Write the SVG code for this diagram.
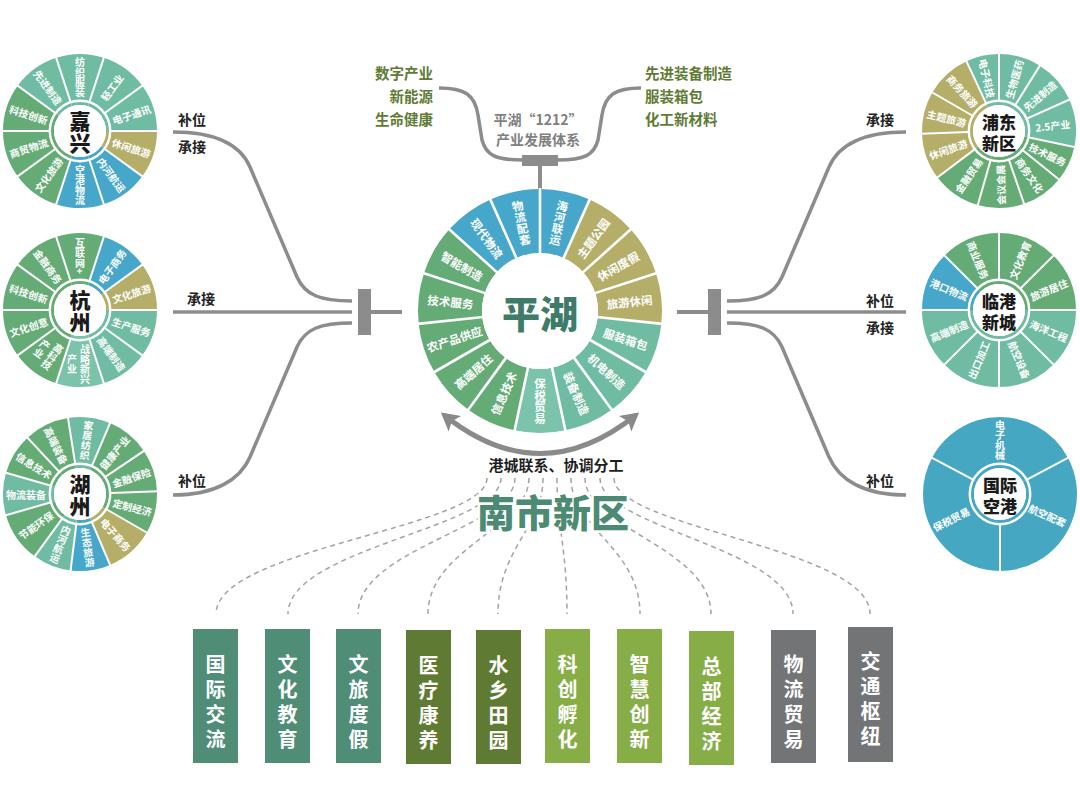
<svg xmlns="http://www.w3.org/2000/svg" xmlns:xlink="http://www.w3.org/1999/xlink" width="1080" height="797" viewBox="0 0 1080 797">
<defs>
<style>
text{font-family:"Noto Sans CJK SC","Noto Sans",sans-serif}
.sg{fill:none;stroke-width:51}
.sgP{fill:none;stroke-width:64}
.t{stroke:#6fbca2}.g{stroke:#65ab76}.o{stroke:#b5ae69}.b{stroke:#46a7ca}.a{stroke:#46a7c3}.t2{stroke:#7bc3aa}
.gap{fill:none;stroke:#fff;stroke-width:2.4}
.hub{fill:#fff}
.sep{stroke:#fff;stroke-width:2}
.sepP{stroke:#fff;stroke-width:2.6}
.st{font-size:10px;font-weight:700;fill:#fff;text-anchor:middle;dominant-baseline:central}
.pt{font-size:11.5px}
.v{writing-mode:vertical-rl}
.ct{font-size:21px;font-weight:900;fill:#1a1a1a;text-anchor:middle;dominant-baseline:central}
.ct2{font-size:17px;font-weight:900;fill:#1a1a1a;text-anchor:middle;dominant-baseline:central}
.conn{fill:none;stroke:#8c8c8c;stroke-width:3.5}
.bar{fill:#8c8c8c}
.lbl{font-size:14px;font-weight:700;fill:#222}
.gt{font-size:14.5px;font-weight:700;fill:#607b35}
.dash{fill:none;stroke:#a3a3a3;stroke-width:1.5;stroke-dasharray:5 4}
.bx{font-size:20px;font-weight:700;fill:#fff;text-anchor:middle;dominant-baseline:central}
</style>
<line id="sp" x1="31" x2="78" y1="0" y2="0" class="sep"/>
<line id="spP" x1="57" x2="123" y1="0" y2="0" class="sepP"/>
<marker id="ah" markerUnits="userSpaceOnUse" markerWidth="24" markerHeight="24" refX="8" refY="0" viewBox="-8 -12 24 24" orient="auto-start-reverse">
<path d="M-6,-10 L12,0 L-6,10 L-2,0 z" fill="#8a8a8a"/>
</marker>
</defs>
<rect width="1080" height="797" fill="#fff"/>

<g id="connectors">
<path class="conn" d="M173,132 C215,132 240,144 250,167 L297,277 C305,295 320,301 352,301"/>
<path class="conn" d="M173,312 H352"/>
<path class="conn" d="M352,323 C320,323 305,329 297,347 L250,457 C240,480 215,495 173,495"/>
<rect class="bar" x="358" y="289" width="13" height="46"/>
<path class="conn" d="M371,312 H402" style="stroke-width:4"/>
<path class="conn" d="M906,132 C864,132 839,144 829,167 L782,277 C774,295 759,301 727,301"/>
<path class="conn" d="M727,312 H906"/>
<path class="conn" d="M727,323 C759,323 774,329 782,347 L829,457 C839,480 864,495 906,495"/>
<rect class="bar" x="708" y="289" width="13" height="46"/>
<path class="conn" d="M677,312 H708" style="stroke-width:4"/>
<path class="conn" d="M439,88 C465,88 475,95 478,115 L482,140 C486,155 495,160 523,160"/>
<path class="conn" d="M641,88 C615,88 605,95 602,115 L598,140 C594,155 585,160 557,160"/>
<rect class="bar" x="522" y="155" width="36" height="11"/>
<path class="conn" d="M540,166 V190" style="stroke-width:4"/>
<path class="conn" d="M444,415 Q540,492 636,415" style="stroke-width:5;stroke:#8a8a8a" marker-start="url(#ah)" marker-end="url(#ah)"/>
<path class="dash" d="M487,478 C487,528 216,548 216,614"/>
<path class="dash" d="M501,478 C501,528 288,548 288,614"/>
<path class="dash" d="M515,478 C515,528 358,548 358,614"/>
<path class="dash" d="M529,478 C529,528 428,548 428,614"/>
<path class="dash" d="M543,478 C543,528 498,548 498,614"/>
<path class="dash" d="M557,478 C557,528 567,548 567,614"/>
<path class="dash" d="M571,478 C571,528 640,548 640,614"/>
<path class="dash" d="M585,478 C585,528 711,548 711,614"/>
<path class="dash" d="M600,478 C600,528 793,548 793,614"/>
<path class="dash" d="M614,478 C614,528 870,548 870,614"/>
</g>

<g id="labels">
<text class="lbl" x="178" y="125">补位</text>
<text class="lbl" x="178" y="152">承接</text>
<text class="lbl" x="187" y="304">承接</text>
<text class="lbl" x="178" y="486">补位</text>
<text class="lbl" x="866" y="125">承接</text>
<text class="lbl" x="866" y="306">补位</text>
<text class="lbl" x="866" y="333">承接</text>
<text class="lbl" x="866" y="486">补位</text>
<text class="gt" x="433" y="79" text-anchor="end">数字产业</text>
<text class="gt" x="433" y="102" text-anchor="end">新能源</text>
<text class="gt" x="433" y="125" text-anchor="end">生命健康</text>
<text class="gt" x="645" y="79">先进装备制造</text>
<text class="gt" x="645" y="102">服装箱包</text>
<text class="gt" x="645" y="125">化工新材料</text>
<text x="538" y="125" text-anchor="middle" style="font-size:14px;font-weight:700;fill:#7f7f7f">平湖“1212”</text>
<text x="538" y="145" text-anchor="middle" style="font-size:14px;font-weight:700;fill:#7f7f7f">产业发展体系</text>
<text x="556" y="471" text-anchor="middle" style="font-size:15px;font-weight:700;fill:#1e1e1e">港城联系、协调分工</text>
<text x="553" y="527" text-anchor="middle" style="font-size:38px;font-weight:900;fill:#4c8a74;stroke:#fff;stroke-width:5;paint-order:stroke">南市新区</text>
</g>

<g id="jiaxing" transform="translate(80,131)">
<circle class="sg t" r="51.5" stroke-dasharray="32.36 1000" transform="rotate(-108)"/>
<circle class="sg t" r="51.5" stroke-dasharray="32.36 1000" transform="rotate(-72)"/>
<circle class="sg t" r="51.5" stroke-dasharray="32.36 1000" transform="rotate(-36)"/>
<circle class="sg o" r="51.5" stroke-dasharray="32.36 1000" transform="rotate(0)"/>
<circle class="sg b" r="51.5" stroke-dasharray="32.36 1000" transform="rotate(36)"/>
<circle class="sg b" r="51.5" stroke-dasharray="32.36 1000" transform="rotate(72)"/>
<circle class="sg g" r="51.5" stroke-dasharray="32.36 1000" transform="rotate(108)"/>
<circle class="sg g" r="51.5" stroke-dasharray="32.36 1000" transform="rotate(144)"/>
<circle class="sg g" r="51.5" stroke-dasharray="32.36 1000" transform="rotate(180)"/>
<circle class="sg t" r="51.5" stroke-dasharray="32.36 1000" transform="rotate(216)"/>
<circle class="gap" r="30.2"/><circle class="hub" r="26"/>
<use href="#sp" transform="rotate(-108)"/><use href="#sp" transform="rotate(-72)"/><use href="#sp" transform="rotate(-36)"/><use href="#sp" transform="rotate(0)"/><use href="#sp" transform="rotate(36)"/><use href="#sp" transform="rotate(72)"/><use href="#sp" transform="rotate(108)"/><use href="#sp" transform="rotate(144)"/><use href="#sp" transform="rotate(180)"/><use href="#sp" transform="rotate(216)"/>
<text class="st v" transform="rotate(-90) translate(54,0) rotate(90)">纺织服装</text>
<text class="st" transform="rotate(-54) translate(54,0)">轻工业</text>
<text class="st" transform="rotate(-18) translate(54,0)">电子通讯</text>
<text class="st" transform="rotate(18) translate(54,0)">休闲旅游</text>
<text class="st" transform="rotate(54) translate(54,0)">内河航运</text>
<text class="st v" transform="rotate(90) translate(54,0) rotate(-90)">空港物流</text>
<text class="st" transform="rotate(126) translate(54,0) rotate(180)">文化旅游</text>
<text class="st" transform="rotate(162) translate(54,0) rotate(180)">商贸物流</text>
<text class="st" transform="rotate(198) translate(54,0) rotate(180)">科技创新</text>
<text class="st" transform="rotate(234) translate(54,0) rotate(180)">先进制造</text>
<text class="ct" y="-11">嘉</text><text class="ct" y="11">兴</text>
</g>

<g id="hangzhou" transform="translate(80,310)">
<circle class="sg g" r="51.5" stroke-dasharray="32.36 1000" transform="rotate(-108)"/>
<circle class="sg b" r="51.5" stroke-dasharray="32.36 1000" transform="rotate(-72)"/>
<circle class="sg o" r="51.5" stroke-dasharray="32.36 1000" transform="rotate(-36)"/>
<circle class="sg t" r="51.5" stroke-dasharray="32.36 1000" transform="rotate(0)"/>
<circle class="sg t" r="51.5" stroke-dasharray="32.36 1000" transform="rotate(36)"/>
<circle class="sg t2" r="51.5" stroke-dasharray="32.36 1000" transform="rotate(72)"/>
<circle class="sg g" r="51.5" stroke-dasharray="32.36 1000" transform="rotate(108)"/>
<circle class="sg g" r="51.5" stroke-dasharray="32.36 1000" transform="rotate(144)"/>
<circle class="sg g" r="51.5" stroke-dasharray="32.36 1000" transform="rotate(180)"/>
<circle class="sg g" r="51.5" stroke-dasharray="32.36 1000" transform="rotate(216)"/>
<circle class="gap" r="30.2"/><circle class="hub" r="26"/>
<use href="#sp" transform="rotate(-108)"/><use href="#sp" transform="rotate(-72)"/><use href="#sp" transform="rotate(-36)"/><use href="#sp" transform="rotate(0)"/><use href="#sp" transform="rotate(36)"/><use href="#sp" transform="rotate(72)"/><use href="#sp" transform="rotate(108)"/><use href="#sp" transform="rotate(144)"/><use href="#sp" transform="rotate(180)"/><use href="#sp" transform="rotate(216)"/>
<text class="st v" transform="rotate(-90) translate(54,0) rotate(90)">互联网+</text>
<text class="st" transform="rotate(-54) translate(54,0)">电子商务</text>
<text class="st" transform="rotate(-18) translate(54,0)">文化旅游</text>
<text class="st" transform="rotate(18) translate(54,0)">生产服务</text>
<text class="st" transform="rotate(54) translate(54,0)">高端制造</text>
<text class="st v" x="5" transform="rotate(90) translate(54,0) rotate(-90)">战略新兴</text>
<text class="st v" x="-8" transform="rotate(90) translate(54,0) rotate(-90)">产业</text>
<text class="st v" x="5" transform="rotate(126) translate(54,0) rotate(-90)">高科技</text>
<text class="st v" x="-8" transform="rotate(126) translate(54,0) rotate(-90)">产业</text>
<text class="st" transform="rotate(162) translate(54,0) rotate(180)">文化创意</text>
<text class="st" transform="rotate(198) translate(54,0) rotate(180)">科技创新</text>
<text class="st" transform="rotate(234) translate(54,0) rotate(180)">金融商务</text>
<text class="ct" y="-11">杭</text><text class="ct" y="11">州</text>
</g>

<g id="huzhou" transform="translate(80,494)">
<circle class="sg g" r="51.5" stroke-dasharray="30.56 1000" transform="rotate(-133)"/>
<circle class="sg t" r="51.5" stroke-dasharray="28.76 1000" transform="rotate(-99)"/>
<circle class="sg g" r="51.5" stroke-dasharray="29.66 1000" transform="rotate(-67)"/>
<circle class="sg g" r="51.5" stroke-dasharray="28.76 1000" transform="rotate(-34)"/>
<circle class="sg g" r="51.5" stroke-dasharray="28.76 1000" transform="rotate(-2)"/>
<circle class="sg o" r="51.5" stroke-dasharray="33.26 1000" transform="rotate(30)"/>
<circle class="sg b" r="51.5" stroke-dasharray="26.96 1000" transform="rotate(67)"/>
<circle class="sg t" r="51.5" stroke-dasharray="26.07 1000" transform="rotate(97)"/>
<circle class="sg g" r="51.5" stroke-dasharray="34.15 1000" transform="rotate(126)"/>
<circle class="sg t" r="51.5" stroke-dasharray="28.76 1000" transform="rotate(164)"/>
<circle class="sg g" r="51.5" stroke-dasharray="27.86 1000" transform="rotate(196)"/>
<circle class="gap" r="30.2"/><circle class="hub" r="26"/>
<use href="#sp" transform="rotate(-133)"/><use href="#sp" transform="rotate(-99)"/><use href="#sp" transform="rotate(-67)"/><use href="#sp" transform="rotate(-34)"/><use href="#sp" transform="rotate(-2)"/><use href="#sp" transform="rotate(30)"/><use href="#sp" transform="rotate(67)"/><use href="#sp" transform="rotate(97)"/><use href="#sp" transform="rotate(126)"/><use href="#sp" transform="rotate(164)"/><use href="#sp" transform="rotate(196)"/>
<text class="st" transform="rotate(-116) translate(54,0) rotate(180)">高端装备</text>
<text class="st v" transform="rotate(-83) translate(54,0) rotate(90)">家居纺织</text>
<text class="st" transform="rotate(-50.5) translate(54,0)">健康产业</text>
<text class="st" transform="rotate(-18) translate(54,0)">金融保险</text>
<text class="st" transform="rotate(14) translate(54,0)">定制经济</text>
<text class="st" transform="rotate(48.5) translate(54,0)">电子商务</text>
<text class="st v" transform="rotate(82) translate(54,0) rotate(-90)">生态旅游</text>
<text class="st v" transform="rotate(111.5) translate(54,0) rotate(-90)">内河航运</text>
<text class="st" transform="rotate(145) translate(54,0) rotate(180)">节能环保</text>
<text class="st" transform="rotate(180) translate(54,0) rotate(180)">物流装备</text>
<text class="st" transform="rotate(212) translate(54,0) rotate(180)">信息技术</text>
<text class="ct" y="-11">湖</text><text class="ct" y="11">州</text>
</g>

<g id="pudong" transform="translate(999,131)">
<circle class="sg o" r="51.5" stroke-dasharray="31.46 1000" transform="rotate(-150)"/>
<circle class="sg t" r="51.5" stroke-dasharray="22.47 1000" transform="rotate(-115)"/>
<circle class="sg t" r="51.5" stroke-dasharray="28.76 1000" transform="rotate(-90)"/>
<circle class="sg t" r="51.5" stroke-dasharray="30.56 1000" transform="rotate(-58)"/>
<circle class="sg t" r="51.5" stroke-dasharray="32.36 1000" transform="rotate(-24)"/>
<circle class="sg g" r="51.5" stroke-dasharray="24.27 1000" transform="rotate(12)"/>
<circle class="sg g" r="51.5" stroke-dasharray="28.76 1000" transform="rotate(39)"/>
<circle class="sg g" r="51.5" stroke-dasharray="31.46 1000" transform="rotate(71)"/>
<circle class="sg g" r="51.5" stroke-dasharray="33.26 1000" transform="rotate(106)"/>
<circle class="sg o" r="51.5" stroke-dasharray="31.46 1000" transform="rotate(143)"/>
<circle class="sg o" r="51.5" stroke-dasharray="28.76 1000" transform="rotate(178)"/>
<circle class="gap" r="30.2"/><circle class="hub" r="26"/>
<use href="#sp" transform="rotate(-150)"/><use href="#sp" transform="rotate(-115)"/><use href="#sp" transform="rotate(-90)"/><use href="#sp" transform="rotate(-58)"/><use href="#sp" transform="rotate(-24)"/><use href="#sp" transform="rotate(12)"/><use href="#sp" transform="rotate(39)"/><use href="#sp" transform="rotate(71)"/><use href="#sp" transform="rotate(106)"/><use href="#sp" transform="rotate(143)"/><use href="#sp" transform="rotate(178)"/>
<text class="st" transform="rotate(-132.5) translate(54,0) rotate(180)">商务旅游</text>
<text class="st" transform="rotate(-102.5) translate(54,0) rotate(180)">电子科技</text>
<text class="st" transform="rotate(-74) translate(54,0)">生物医药</text>
<text class="st" transform="rotate(-41) translate(54,0)">先进制造</text>
<text class="st" transform="rotate(-6) translate(54,0)">2.5产业</text>
<text class="st" transform="rotate(25.5) translate(54,0)">技术服务</text>
<text class="st" transform="rotate(55) translate(54,0)">商务文化</text>
<text class="st" transform="rotate(88.5) translate(54,0) rotate(180)">会议会展</text>
<text class="st" transform="rotate(124.5) translate(54,0) rotate(180)">金融贸易</text>
<text class="st" transform="rotate(160.5) translate(54,0) rotate(180)">休闲旅游</text>
<text class="st" transform="rotate(194) translate(54,0) rotate(180)">主题旅游</text>
<text class="ct2" y="-10">浦东</text><text class="ct2" y="11">新区</text>
</g>

<g id="lingang" transform="translate(999,310)">
<circle class="sg g" r="51.5" stroke-dasharray="40.45 1000" transform="rotate(-90)"/>
<circle class="sg g" r="51.5" stroke-dasharray="40.45 1000" transform="rotate(-45)"/>
<circle class="sg t" r="51.5" stroke-dasharray="40.45 1000" transform="rotate(0)"/>
<circle class="sg t" r="51.5" stroke-dasharray="40.45 1000" transform="rotate(45)"/>
<circle class="sg t" r="51.5" stroke-dasharray="40.45 1000" transform="rotate(90)"/>
<circle class="sg t" r="51.5" stroke-dasharray="40.45 1000" transform="rotate(135)"/>
<circle class="sg b" r="51.5" stroke-dasharray="40.45 1000" transform="rotate(180)"/>
<circle class="sg g" r="51.5" stroke-dasharray="40.45 1000" transform="rotate(225)"/>
<circle class="gap" r="30.2"/><circle class="hub" r="26"/>
<use href="#sp" transform="rotate(-90)"/><use href="#sp" transform="rotate(-45)"/><use href="#sp" transform="rotate(0)"/><use href="#sp" transform="rotate(45)"/><use href="#sp" transform="rotate(90)"/><use href="#sp" transform="rotate(135)"/><use href="#sp" transform="rotate(180)"/><use href="#sp" transform="rotate(225)"/>
<text class="st" transform="rotate(-67.5) translate(54,0)">文化教育</text>
<text class="st" transform="rotate(-22.5) translate(54,0)">旅游居住</text>
<text class="st" transform="rotate(22.5) translate(54,0)">海洋工程</text>
<text class="st" transform="rotate(67.5) translate(54,0)">航空设备</text>
<text class="st" transform="rotate(112.5) translate(54,0) rotate(180)">出口加工</text>
<text class="st" transform="rotate(157.5) translate(54,0) rotate(180)">高端制造</text>
<text class="st" transform="rotate(202.5) translate(54,0) rotate(180)">港口物流</text>
<text class="st" transform="rotate(247.5) translate(54,0) rotate(180)">商业服务</text>
<text class="ct2" y="-10">临港</text><text class="ct2" y="11">新城</text>
</g>

<g id="airport" transform="translate(1000,494)">
<circle class="sg a" r="51.5" stroke-dasharray="111.45 1000" transform="rotate(-152)"/>
<circle class="sg a" r="51.5" stroke-dasharray="106.06 1000" transform="rotate(-28)"/>
<circle class="sg a" r="51.5" stroke-dasharray="106.06 1000" transform="rotate(90)"/>
<circle class="gap" r="30.2"/><circle class="hub" r="26"/>
<use href="#sp" transform="rotate(-152)"/><use href="#sp" transform="rotate(-28)"/><use href="#sp" transform="rotate(90)"/>
<text class="st v" transform="rotate(-90) translate(54,0) rotate(90)">电子机械</text>
<text class="st" transform="rotate(24) translate(52,0)">航空配套</text>
<text class="st" transform="rotate(153) translate(55,0) rotate(180)">保税贸易</text>
<text class="ct2" y="-10">国际</text><text class="ct2" y="11">空港</text>
</g>

<g id="pinghu" transform="translate(540,311)">
<circle class="sgP b" r="90" stroke-dasharray="37.70 1000" transform="rotate(-90)"/>
<circle class="sgP o" r="90" stroke-dasharray="37.70 1000" transform="rotate(-66)"/>
<circle class="sgP o" r="90" stroke-dasharray="37.70 1000" transform="rotate(-42)"/>
<circle class="sgP o" r="90" stroke-dasharray="37.70 1000" transform="rotate(-18)"/>
<circle class="sgP t" r="90" stroke-dasharray="37.70 1000" transform="rotate(6)"/>
<circle class="sgP t" r="90" stroke-dasharray="37.70 1000" transform="rotate(30)"/>
<circle class="sgP t" r="90" stroke-dasharray="37.70 1000" transform="rotate(54)"/>
<circle class="sgP t2" r="90" stroke-dasharray="37.70 1000" transform="rotate(78)"/>
<circle class="sgP g" r="90" stroke-dasharray="37.70 1000" transform="rotate(102)"/>
<circle class="sgP g" r="90" stroke-dasharray="37.70 1000" transform="rotate(126)"/>
<circle class="sgP g" r="90" stroke-dasharray="37.70 1000" transform="rotate(150)"/>
<circle class="sgP g" r="90" stroke-dasharray="37.70 1000" transform="rotate(174)"/>
<circle class="sgP g" r="90" stroke-dasharray="37.70 1000" transform="rotate(198)"/>
<circle class="sgP b" r="90" stroke-dasharray="37.70 1000" transform="rotate(222)"/>
<circle class="sgP b" r="90" stroke-dasharray="37.70 1000" transform="rotate(246)"/>
<circle class="hub" r="58"/>
<use href="#spP" transform="rotate(-90)"/><use href="#spP" transform="rotate(-66)"/><use href="#spP" transform="rotate(-42)"/><use href="#spP" transform="rotate(-18)"/><use href="#spP" transform="rotate(6)"/><use href="#spP" transform="rotate(30)"/><use href="#spP" transform="rotate(54)"/><use href="#spP" transform="rotate(78)"/><use href="#spP" transform="rotate(102)"/><use href="#spP" transform="rotate(126)"/><use href="#spP" transform="rotate(150)"/><use href="#spP" transform="rotate(174)"/><use href="#spP" transform="rotate(198)"/><use href="#spP" transform="rotate(222)"/><use href="#spP" transform="rotate(246)"/>
<text class="st pt v" transform="rotate(-78) translate(90,0) rotate(90)">海河联运</text>
<text class="st pt" transform="rotate(-54) translate(90,0)">主题公园</text>
<text class="st pt" transform="rotate(-30) translate(90,0)">休闲度假</text>
<text class="st pt" transform="rotate(-6) translate(90,0)">旅游休闲</text>
<text class="st pt" transform="rotate(18) translate(90,0)">服装箱包</text>
<text class="st pt" transform="rotate(42) translate(90,0)">机电制造</text>
<text class="st pt" transform="rotate(66) translate(90,0)">装备制造</text>
<text class="st pt v" transform="rotate(90) translate(90,0) rotate(-90)">保税贸易</text>
<text class="st pt" transform="rotate(114) translate(90,0) rotate(180)">信息技术</text>
<text class="st pt" transform="rotate(138) translate(90,0) rotate(180)">高端居住</text>
<text class="st pt" transform="rotate(162) translate(90,0) rotate(180)">农产品供应</text>
<text class="st pt" transform="rotate(186) translate(90,0) rotate(180)">技术服务</text>
<text class="st pt" transform="rotate(210) translate(90,0) rotate(180)">智能制造</text>
<text class="st pt" transform="rotate(234) translate(90,0) rotate(180)">现代物流</text>
<text class="st pt v" transform="rotate(258) translate(90,0) rotate(90)">物流配套</text>
<text x="0" y="0" text-anchor="middle" dominant-baseline="central" style="font-size:38px;font-weight:900;fill:#3e7b68">平湖</text>
</g>

<g id="box1"><rect x="193" y="629" width="45" height="134" fill="#4f8d77"/><text class="bx"><tspan x="215.5" y="663">国</tspan><tspan x="215.5" y="688">际</tspan><tspan x="215.5" y="713">交</tspan><tspan x="215.5" y="738">流</tspan></text></g>
<g id="box2"><rect x="265" y="629" width="45" height="134" fill="#4f8d77"/><text class="bx"><tspan x="287.5" y="663">文</tspan><tspan x="287.5" y="688">化</tspan><tspan x="287.5" y="713">教</tspan><tspan x="287.5" y="738">育</tspan></text></g>
<g id="box3"><rect x="336" y="629" width="45" height="134" fill="#4f8d77"/><text class="bx"><tspan x="358.5" y="663">文</tspan><tspan x="358.5" y="688">旅</tspan><tspan x="358.5" y="713">度</tspan><tspan x="358.5" y="738">假</tspan></text></g>
<g id="box4"><rect x="406" y="630" width="45" height="134" fill="#5f7b33"/><text class="bx"><tspan x="428.5" y="664">医</tspan><tspan x="428.5" y="689">疗</tspan><tspan x="428.5" y="714">康</tspan><tspan x="428.5" y="739">养</tspan></text></g>
<g id="box5"><rect x="476" y="630" width="45" height="134" fill="#5f7b33"/><text class="bx"><tspan x="498.5" y="664">水</tspan><tspan x="498.5" y="689">乡</tspan><tspan x="498.5" y="714">田</tspan><tspan x="498.5" y="739">园</tspan></text></g>
<g id="box6"><rect x="545" y="629" width="45" height="134" fill="#87ad47"/><text class="bx"><tspan x="567.5" y="663">科</tspan><tspan x="567.5" y="688">创</tspan><tspan x="567.5" y="713">孵</tspan><tspan x="567.5" y="738">化</tspan></text></g>
<g id="box7"><rect x="617" y="629" width="45" height="134" fill="#87ad47"/><text class="bx"><tspan x="639.5" y="663">智</tspan><tspan x="639.5" y="688">慧</tspan><tspan x="639.5" y="713">创</tspan><tspan x="639.5" y="738">新</tspan></text></g>
<g id="box8"><rect x="689" y="631" width="45" height="134" fill="#87ad47"/><text class="bx"><tspan x="711.5" y="665">总</tspan><tspan x="711.5" y="690">部</tspan><tspan x="711.5" y="715">经</tspan><tspan x="711.5" y="740">济</tspan></text></g>
<g id="box9"><rect x="771" y="630" width="45" height="133" fill="#727476"/><text class="bx"><tspan x="793.5" y="663">物</tspan><tspan x="793.5" y="688">流</tspan><tspan x="793.5" y="713">贸</tspan><tspan x="793.5" y="738">易</tspan></text></g>
<g id="box10"><rect x="848" y="627" width="45" height="135" fill="#727476"/><text class="bx"><tspan x="870.5" y="660">交</tspan><tspan x="870.5" y="685">通</tspan><tspan x="870.5" y="710">枢</tspan><tspan x="870.5" y="735">纽</tspan></text></g>
</svg>
